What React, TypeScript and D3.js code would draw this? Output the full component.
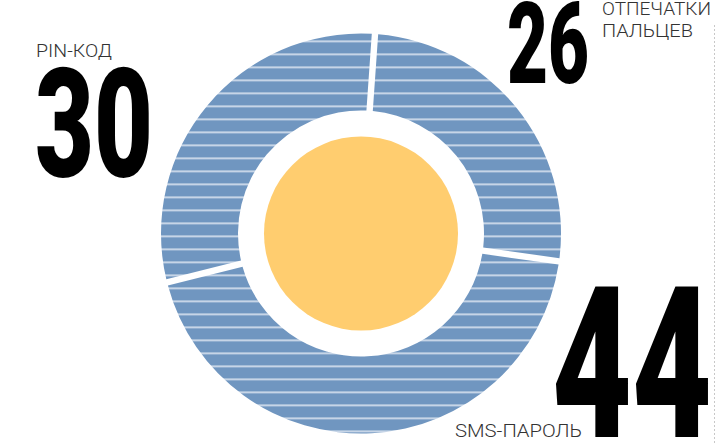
import React from "react";
import * as d3 from "d3";

const categories = ["ОТПЕЧАТКИ ПАЛЬЦЕВ", "SMS-ПАРОЛЬ", "PIN-КОД"];
const values = [26, 44, 30];

const W = 717;
const H = 444;
const CX = 361;
const CY = 233.5;
const R_OUT = 200;
const R_IN = 123;
const R_CORE = 97;

export default function App() {
  const pie = d3
    .pie<number>()
    .sort(null)
    .value((d) => d)
    .startAngle(0.07)
    .endAngle(0.07 + Math.PI * 2)
    .padAngle(0.032);
  const arcs = pie(values);
  const arc = d3
    .arc<d3.PieArcDatum<number>>()
    .innerRadius(R_IN)
    .outerRadius(R_OUT)
    .padRadius(R_OUT);

  const numFont = "Roboto, 'DejaVu Sans', sans-serif";
  const lblFont = "Roboto, 'DejaVu Sans', sans-serif";

  return (
    <svg
      width={W}
      height={H}
      style={{ position: "absolute", left: 0, top: 0, background: "#fff" }}
    >
      <defs>
        <pattern
          id="stripes"
          patternUnits="userSpaceOnUse"
          x={0}
          y={41}
          width={8}
          height={13}
        >
          <rect x={0} y={0} width={8} height={13} fill="#7096c0" />
          <rect x={0} y={0} width={8} height={1.6} fill="#dce5f0" />
        </pattern>
      </defs>
      <g transform={`translate(${CX},${CY})`}>
        {arcs.map((a, i) => (
          <path key={categories[i]} d={arc(a) || ""} fill="url(#stripes)" />
        ))}
        <circle r={R_CORE} fill="#ffcd6f" />
      </g>

      <line
        x1={714.5}
        x2={714.5}
        y1={25}
        y2={444}
        stroke="#c8c8c8"
        strokeWidth={1}
        strokeDasharray="2 2"
      />

      {/* PIN */}
      <text
        x={36}
        y={57}
        fontFamily={lblFont}
        fontWeight={300}
        fontSize={18}
        fill="#333"
        textLength={76}
        lengthAdjust="spacingAndGlyphs"
      >
        {categories[2]}
      </text>
      <text
        x={35}
        y={177}
        fontFamily={numFont}
        fontWeight={900}
        fontSize={153}
        fill="#000"
        textLength={118}
        lengthAdjust="spacingAndGlyphs"
      >
        {values[2]}
      </text>

      {/* Fingerprints */}
      <text
        x={507}
        y={83}
        fontFamily={numFont}
        fontWeight={900}
        fontSize={114}
        fill="#000"
        textLength={82}
        lengthAdjust="spacingAndGlyphs"
      >
        {values[0]}
      </text>
      <text
        x={602}
        y={15}
        fontFamily={lblFont}
        fontWeight={300}
        fontSize={18}
        fill="#333"
        textLength={109}
        lengthAdjust="spacingAndGlyphs"
      >
        {categories[0].split(" ")[0]}
      </text>
      <text
        x={602}
        y={37}
        fontFamily={lblFont}
        fontWeight={300}
        fontSize={18}
        fill="#333"
        textLength={91}
        lengthAdjust="spacingAndGlyphs"
      >
        {categories[0].split(" ")[1]}
      </text>

      {/* SMS */}
      <text
        x={455}
        y={437}
        fontFamily={lblFont}
        fontWeight={300}
        fontSize={19}
        fill="#333"
        textLength={127}
        lengthAdjust="spacingAndGlyphs"
      >
        {categories[1]}
      </text>
      <text
        x={552}
        y={437}
        fontFamily={numFont}
        fontWeight={900}
        fontSize={211}
        fill="#000"
        textLength={160}
        lengthAdjust="spacingAndGlyphs"
      >
        {values[1]}
      </text>
    </svg>
  );
}
